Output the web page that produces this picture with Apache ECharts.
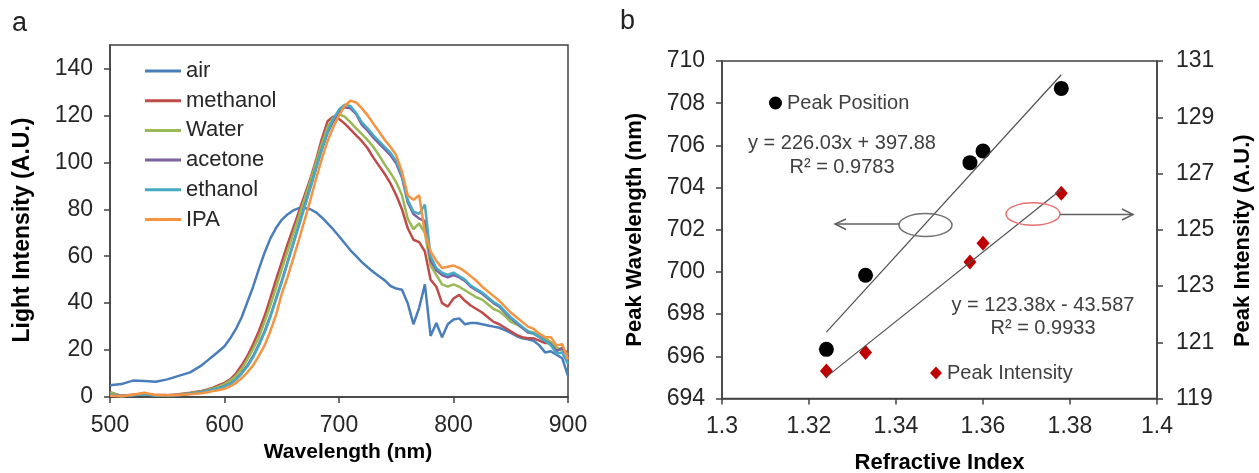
<!DOCTYPE html>
<html>
<head>
<meta charset="utf-8">
<title>Spectra and peak shift</title>
<script src="https://cdn.jsdelivr.net/npm/echarts@6/dist/echarts.min.js"></script>
<style>
  html, body { margin: 0; padding: 0; background: #fff; }
  #chart { width: 1259px; height: 473px; }
</style>
</head>
<body>
<div id="chart"></div>
<script>
// ---- panel a : spectra ----
var wavelengths = [500,510,520,530,540,550,560,570,
  580,585,590,595,600,605,610,615,620,625,630,635,640,645,650,655,660,665,670,675,
  680,685,690,695,700,705,710,715,720,725,730,735,740,745,750,755,760,765,770,775,
  780,785,790,795,800,805,810,815,820,825,830,835,840,845,850,855,860,865,870,875,
  880,885,890,895,900];

var airVals = [5,5.5,7,6.8,6.5,7.5,9,10.5,
  13.5,15.5,17.5,19.5,21.6,25,29,34,40.5,47,54.5,61.5,67.5,72,75.5,77.8,79.5,80.5,80.5,80,
  78.7,76.5,74,71.4,68.5,65.5,62.5,60,57.5,55.3,53.3,51.5,49.7,47.3,46.2,45.7,40,31,38,48,
  26,31.5,25.5,31,33,33.5,31,31.5,31.5,31,30.5,30,29.5,28.5,27.3,26,25,24.6,24,22,
  19,19.5,18,16.5,9];

var methanolVals = [2,0.5,1,1.5,0.8,0.8,1.2,1.8,
  2.6,3.2,4,5,6,7.5,10,13.5,17.5,22.5,28,34.5,42,50,57.5,65,72,79,86,93,
  101,110,117.5,119.5,118.5,116.5,114,111.5,109,106,102,98.5,95,91,86,80,72,67,66,62,
  50,47,40,38.5,42,43.5,41,39,37.5,36,34,32,31,29.5,28,26.5,25.5,25,25,24,
  23,23,20.5,20,19];

var waterVals = [2,0.3,0.8,1.2,0.7,0.7,1,1.6,
  2.3,2.9,3.6,4.5,5.5,7,9,12,16,20.5,25.5,32,39,46.5,54.5,62,69.5,77,84.5,92,
  100,108,115,119,120.5,119.5,117,114.5,112,109.5,106.5,103,99,95.5,91.5,86,76,71.5,74,70,
  56,52,48,47,48,47,45.5,44,42.5,41.5,39.5,37.5,36.5,34.5,32,31,29.5,28,27.5,26,
  25,23.5,21,20,18];

var acetoneVals = [1,0.4,0.8,1.3,0.6,0.6,0.9,1.4,
  2,2.5,3.1,3.8,4.6,5.7,7.6,10.2,13.5,17.5,22.5,28,34.5,42,49.5,57.5,65.5,73.5,81.5,89.5,
  97.5,105.5,112.5,117.5,121.5,123.5,123,120.5,116,113.5,110.5,108,105.5,103,99.5,93.5,83,78,76,75,
  58,54,52,51,52,51,49.5,47,45.5,44,42,40,38.5,36,33.5,31.5,29.5,27.5,27,25.5,
  24,22.5,19.5,21,17];

var ethanolVals = [1,0.3,0.7,1.2,0.6,0.6,0.9,1.4,
  2,2.6,3.2,3.8,4.5,5.5,7.5,10,13,17,22,27.5,34,41.5,49,57,65,73,81,89,
  97.5,105.5,113,118.5,122.5,124.5,124,121,117,114.5,111.5,109,106.5,104,100.5,94.5,84,79,78,82,
  60,55,53,52,53,51.5,50,47.5,46,44.5,42.5,40.5,39,36.5,34,32,30,28,27,25.5,
  24,22,18.5,19,14];

var ipaVals = [0.5,0.3,1,1.8,0.8,0.7,0.9,1.2,
  1.6,2,2.5,3,3.5,4.5,6,8,10.5,13.5,17.5,22,28,35,44,51,59,67,75.5,84,
  93,101.5,109,115,120,124,126.3,125.5,123,120,116.5,113,109.5,106.5,103,96,86,84,86,70,
  62,58,55,55.5,56,55,53.5,51.5,49.5,47,45,43,41,38.5,36,34,32,30,29,27,
  25.5,25.5,22,22.5,16];

var spectraNames = ['air', 'methanol', 'Water', 'acetone', 'ethanol', 'IPA'];
var spectraVals = [airVals, methanolVals, waterVals, acetoneVals, ethanolVals, ipaVals];
var spectraColors = ['#4A7EBB', '#BE4B48', '#98B954', '#7D60A0', '#46AAC5', '#F69240'];

// ---- panel b : peak vs refractive index ----
var refIndex = [1.324, 1.333, 1.357, 1.360, 1.378];
var peakWavelength = [696.33, 699.84, 705.18, 705.73, 708.70];
var peakIntensity = [119.98, 120.64, 123.85, 124.52, 126.30];
var posFit = [226.03, 397.88];   // slope, intercept
var intFit = [123.38, -43.587];

var FONT = '"Liberation Sans", Arial, sans-serif';
var AXC = '#404040';

function pairs(xs, ys) {
  var out = [];
  for (var i = 0; i < xs.length; i++) out.push([xs[i], ys[i]]);
  return out;
}
function fitLine(xs, fit) {
  var lo = Math.min.apply(null, xs), hi = Math.max.apply(null, xs);
  return [[lo, fit[0] * lo + fit[1]], [hi, fit[0] * hi + fit[1]]];
}

var series = [];
for (var s = 0; s < spectraNames.length; s++) {
  series.push({
    name: spectraNames[s],
    type: 'line',
    xAxisIndex: 0, yAxisIndex: 0,
    data: pairs(wavelengths, spectraVals[s]),
    symbol: 'none',
    color: spectraColors[s],
    lineStyle: { width: 2.5, color: spectraColors[s] }
  });
}
series.push({
  name: 'posFit', type: 'line', xAxisIndex: 1, yAxisIndex: 1,
  data: fitLine(refIndex, posFit), symbol: 'none', silent: true,
  lineStyle: { width: 1.2, color: '#505050' }
});
series.push({
  name: 'intFit', type: 'line', xAxisIndex: 1, yAxisIndex: 2,
  data: fitLine(refIndex, intFit), symbol: 'none', silent: true,
  lineStyle: { width: 1.2, color: '#505050' }
});
series.push({
  name: 'Peak Position', type: 'scatter', xAxisIndex: 1, yAxisIndex: 1,
  data: pairs(refIndex, peakWavelength), symbol: 'circle', symbolSize: 15,
  color: '#000', itemStyle: { color: '#000', opacity: 1 }
});
series.push({
  name: 'Peak Intensity', type: 'scatter', xAxisIndex: 1, yAxisIndex: 2,
  data: pairs(refIndex, peakIntensity), symbol: 'diamond', symbolSize: [13, 15],
  color: '#C00000', itemStyle: { color: '#C00000', opacity: 1 }
});

function axisBase(extra) {
  var a = {
    type: 'value',
    splitLine: { show: false },
    axisLine: { show: true, onZero: false, lineStyle: { color: AXC, width: 1.5 } },
    axisTick: { show: true, inside: false, length: 6, lineStyle: { color: AXC, width: 1.5 } },
    axisLabel: { color: '#262626', fontSize: 23, fontFamily: FONT, margin: 17 },
    nameLocation: 'middle',
    nameTextStyle: { color: '#000', fontSize: 21, fontWeight: 'bold', fontFamily: FONT }
  };
  for (var k in extra) a[k] = extra[k];
  return a;
}

var chart = echarts.init(document.getElementById('chart'));
var option = {
  animation: false,
  backgroundColor: '#fff',
  grid: [
    { left: 110, right: 691, top: 45, bottom: 76, show: true, borderColor: AXC, borderWidth: 1.5,
      outerBoundsMode: 'none', containLabel: false },
    { left: 722, right: 102, top: 61, bottom: 74.5, show: true, borderColor: AXC, borderWidth: 1.5,
      outerBoundsMode: 'none', containLabel: false }
  ],
  xAxis: [
    axisBase({ gridIndex: 0, min: 500, max: 900, interval: 100,
      name: 'Wavelength (nm)', nameGap: 44,
      nameTextStyle: { color: '#000', fontSize: 21, fontWeight: 'bold', fontFamily: FONT,
        padding: [0, 0, 0, 18] } }),
    axisBase({ gridIndex: 1, min: 1.3, max: 1.4, interval: 0.02,
      name: 'Refractive Index', nameGap: 53,
      nameTextStyle: { color: '#000', fontSize: 22, fontWeight: 'bold', fontFamily: FONT } })
  ],
  yAxis: [
    axisBase({ gridIndex: 0, min: 0, max: 150, interval: 20,
      name: 'Light Intensity (A.U.)', nameGap: 76,
      nameTextStyle: { color: '#000', fontSize: 23, fontWeight: 'bold', fontFamily: FONT,
        padding: [0, 18, 0, 0] },
      axisLabel: { color: '#262626', fontSize: 23, fontFamily: FONT, margin: 17, showMaxLabel: false } }),
    axisBase({ gridIndex: 1, min: 694, max: 710, interval: 2, position: 'left',
      name: 'Peak Wavelength (nm)', nameGap: 76,
      nameTextStyle: { color: '#000', fontSize: 22, fontWeight: 'bold', fontFamily: FONT } }),
    axisBase({ gridIndex: 1, min: 119, max: 131, interval: 2, position: 'right',
      name: 'Peak Intensity (A.U.)', nameGap: 75,
      nameTextStyle: { color: '#000', fontSize: 22, fontWeight: 'bold', fontFamily: FONT,
        padding: [0, 22, 0, 0] },
      axisLabel: { color: '#262626', fontSize: 23, fontFamily: FONT, margin: 19 } })
  ],
  legend: [
    {
      data: spectraNames, orient: 'vertical', left: 140, top: 55,
      icon: 'rect', itemWidth: 36, itemHeight: 3, itemGap: 7.7,
      textStyle: { fontSize: 22, fontFamily: FONT, color: '#262626', lineHeight: 22 },
      selectedMode: false
    },
    {
      data: ['Peak Position'], left: 764, top: 87,
      icon: 'circle', itemWidth: 13, itemHeight: 13,
      textStyle: { fontSize: 20, fontFamily: FONT, color: '#404040', lineHeight: 22 },
      selectedMode: false
    },
    {
      data: ['Peak Intensity'], left: 925, top: 357,
      icon: 'diamond', itemWidth: 12, itemHeight: 13,
      textStyle: { fontSize: 20, fontFamily: FONT, color: '#404040', lineHeight: 22 },
      selectedMode: false
    }
  ],
  graphic: [
    { type: 'text', left: 12, top: 10, style: { text: 'a', font: '27px ' + FONT, fill: '#222' } },
    { type: 'text', left: 620, top: 8, style: { text: 'b', font: '27px ' + FONT, fill: '#222' } },
    { type: 'text', x: 842, y: 143, style: { text: 'y = 226.03x + 397.88', font: '20px ' + FONT,
      fill: '#404040', textAlign: 'center', textVerticalAlign: 'middle' } },
    { type: 'text', x: 842, y: 167, style: { text: 'R\u00b2 = 0.9783', font: '20px ' + FONT,
      fill: '#404040', textAlign: 'center', textVerticalAlign: 'middle' } },
    { type: 'text', x: 1043, y: 305, style: { text: 'y = 123.38x - 43.587', font: '20px ' + FONT,
      fill: '#404040', textAlign: 'center', textVerticalAlign: 'middle' } },
    { type: 'text', x: 1043, y: 328, style: { text: 'R\u00b2 = 0.9933', font: '20px ' + FONT,
      fill: '#404040', textAlign: 'center', textVerticalAlign: 'middle' } },
    // left-pointing arrow with grey ellipse
    { type: 'ellipse', shape: { cx: 925.5, cy: 225, rx: 26.5, ry: 11.5 },
      style: { fill: 'none', stroke: '#707070', lineWidth: 1.5 }, z: 10 },
    { type: 'line', shape: { x1: 899, y1: 224, x2: 835, y2: 224 },
      style: { stroke: '#606060', lineWidth: 1.5 }, z: 10 },
    { type: 'polyline', shape: { points: [[846, 219], [835, 224], [846, 229.5]] },
      style: { fill: 'none', stroke: '#606060', lineWidth: 1.5 }, z: 10 },
    // right-pointing arrow with red ellipse
    { type: 'ellipse', shape: { cx: 1033, cy: 214, rx: 27, ry: 11.2 },
      style: { fill: 'none', stroke: '#E87070', lineWidth: 1.5 }, z: 10 },
    { type: 'line', shape: { x1: 1060, y1: 214.5, x2: 1133, y2: 214.5 },
      style: { stroke: '#606060', lineWidth: 1.5 }, z: 10 },
    { type: 'polyline', shape: { points: [[1122, 209], [1133, 214.5], [1122, 220]] },
      style: { fill: 'none', stroke: '#606060', lineWidth: 1.5 }, z: 10 }
  ],
  series: series
};
chart.setOption(option);
</script>
</body>
</html>
